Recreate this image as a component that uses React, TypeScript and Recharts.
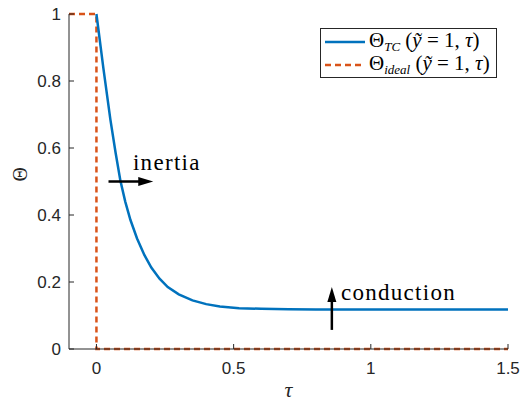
import React from 'react';
import { LineChart, Line, XAxis, YAxis, Legend, ReferenceLine, ReferenceDot } from 'recharts';

// Theta_TC(y=1, tau)
const tcTau = [0, 0.025, 0.051, 0.07, 0.087, 0.105, 0.124, 0.148, 0.175, 0.2, 0.23, 0.26, 0.3, 0.35, 0.4, 0.45, 0.52, 0.6, 0.7, 0.8, 1.0, 1.25, 1.5];
const tcTheta = [1, 0.84, 0.684, 0.585, 0.504, 0.44, 0.385, 0.33, 0.28, 0.243, 0.21, 0.185, 0.163, 0.145, 0.134, 0.127, 0.122, 0.12, 0.119, 0.118, 0.118, 0.118, 0.118];

// ideal step response
const idealTau = [-0.1, 0, 0, 1.5];
const idealTheta = [1, 1, 0, 0];

const xTicks = [0, 0.5, 1, 1.5];
const yTicks = [0, 0.2, 0.4, 0.6, 0.8, 1];

const tcData = tcTau.map((t, i) => ({ tau: t, theta: tcTheta[i] }));
const idealData = idealTau.map((t, i) => ({ tau: t, theta: idealTheta[i] }));

const BLUE = '#0072BD';
const ORANGE = '#D95319';
const AXIS = '#262626';
const SERIF = 'Liberation Serif, serif';
const SANS = 'Liberation Sans, Arial, sans-serif';

const X_MARGIN = 13;
const Y_MARGIN = 8;

// MATLAB style ticks: short marks pointing into the plot
const XTick = (p: any) => (
  <g>
    <line x1={p.x} x2={p.x} y1={p.y - X_MARGIN} y2={p.y - X_MARGIN - 5} stroke={AXIS} strokeWidth={1} />
    <text x={p.x} y={p.y} dy="0.71em" textAnchor="middle" style={{ fontFamily: SANS, fontSize: 17 }} fill={AXIS}>
      {p.payload.value}
    </text>
  </g>
);
const YTick = (p: any) => (
  <g>
    <line x1={p.x + Y_MARGIN} x2={p.x + Y_MARGIN + 5} y1={p.y} y2={p.y} stroke={AXIS} strokeWidth={1} />
    <text x={p.x} y={p.y} dy="0.355em" textAnchor="end" style={{ fontFamily: SANS, fontSize: 17 }} fill={AXIS}>
      {p.payload.value}
    </text>
  </g>
);

const subStyle: React.CSSProperties = { fontSize: 13, fontStyle: 'italic', position: 'relative', top: 4 };

const LegendBox = () => (
  <div
    style={{
      border: `1px solid ${AXIS}`,
      background: '#fff',
      padding: '1px 6px 1px 3px',
      height: 46,
      fontFamily: SERIF,
      fontSize: 21,
      lineHeight: '23px',
      color: '#000',
      whiteSpace: 'nowrap',
    }}
  >
    {[
      { color: BLUE, dash: undefined, sub: 'TC' },
      { color: ORANGE, dash: '6 4', sub: 'ideal' },
    ].map((r) => (
      <div key={r.sub} style={{ display: 'flex', alignItems: 'center', height: 23 }}>
        <svg width={42} height={10} style={{ marginRight: 3 }}>
          <line x1={1} y1={5} x2={41} y2={5} stroke={r.color} strokeWidth={2.5} strokeDasharray={r.dash} />
        </svg>
        <span>
          Θ<span style={subStyle}>{r.sub}</span> (<i>ỹ</i> = 1, <i>τ</i>)
        </span>
      </div>
    ))}
  </div>
);

const HeadRight = (p: any) => (
  <polygon points={`${p.cx},${p.cy} ${p.cx - 15},${p.cy - 4.5} ${p.cx - 15},${p.cy + 4.5}`} fill="#000" />
);
const HeadUp = (p: any) => (
  <polygon points={`${p.cx},${p.cy} ${p.cx - 4.5},${p.cy + 15} ${p.cx + 4.5},${p.cy + 15}`} fill="#000" />
);
const Note = (text: string) => (p: any) => (
  <text x={p.cx} y={p.cy} style={{ fontFamily: SERIF, fontSize: 23, letterSpacing: 1.3 }} fill="#000">
    {text}
  </text>
);

export default function App() {
  return (
    <div style={{ position: 'absolute', left: 0, top: 0, background: '#fff' }}>
      <LineChart width={520} height={403} margin={{ top: 14, right: 12, bottom: 0, left: 0 }}>
        <XAxis
          type="number"
          dataKey="tau"
          domain={[-0.1, 1.5]}
          ticks={xTicks}
          allowDuplicatedCategory={false}
          height={54}
          stroke={AXIS}
          tickLine={false}
          tickSize={0}
          tickMargin={X_MARGIN}
          tick={XTick}
          label={{ value: 'τ', position: 'insideBottom', offset: 6, style: { fontFamily: SERIF, fontStyle: 'italic', fontSize: 22, fill: AXIS } }}
        />
        <YAxis
          type="number"
          domain={[0, 1]}
          ticks={yTicks}
          width={69}
          stroke={AXIS}
          tickLine={false}
          tickSize={0}
          tickMargin={Y_MARGIN}
          tick={YTick}
          label={{ value: 'Θ', angle: -90, position: 'insideLeft', offset: 20, style: { fontFamily: SERIF, fontSize: 20, fill: AXIS } }}
        />
        <Line data={idealData} dataKey="theta" type="linear" stroke={ORANGE} strokeWidth={2.5} strokeDasharray="6 4" dot={false} isAnimationActive={false} name="ideal" />
        <Line data={tcData} dataKey="theta" type="linear" stroke={BLUE} strokeWidth={2.5} dot={false} isAnimationActive={false} name="TC" />

        <ReferenceLine segment={[{ x: 0.044, y: 0.5 }, { x: 0.16, y: 0.5 }]} stroke="#000" strokeWidth={2.5} />
        <ReferenceDot x={0.207} y={0.5} shape={HeadRight} />
        <ReferenceDot x={0.133} y={0.534} shape={Note('inertia')} />

        <ReferenceLine segment={[{ x: 0.858, y: 0.057 }, { x: 0.858, y: 0.15 }]} stroke="#000" strokeWidth={2.5} />
        <ReferenceDot x={0.858} y={0.185} shape={HeadUp} />
        <ReferenceDot x={0.891} y={0.146} shape={Note('conduction')} />

        <Legend
          layout="horizontal"
          verticalAlign="middle"
          align="center"
          content={() => <LegendBox />}
          wrapperStyle={{ top: 28, left: 320, width: 'auto', margin: 0 }}
        />
      </LineChart>
    </div>
  );
}
